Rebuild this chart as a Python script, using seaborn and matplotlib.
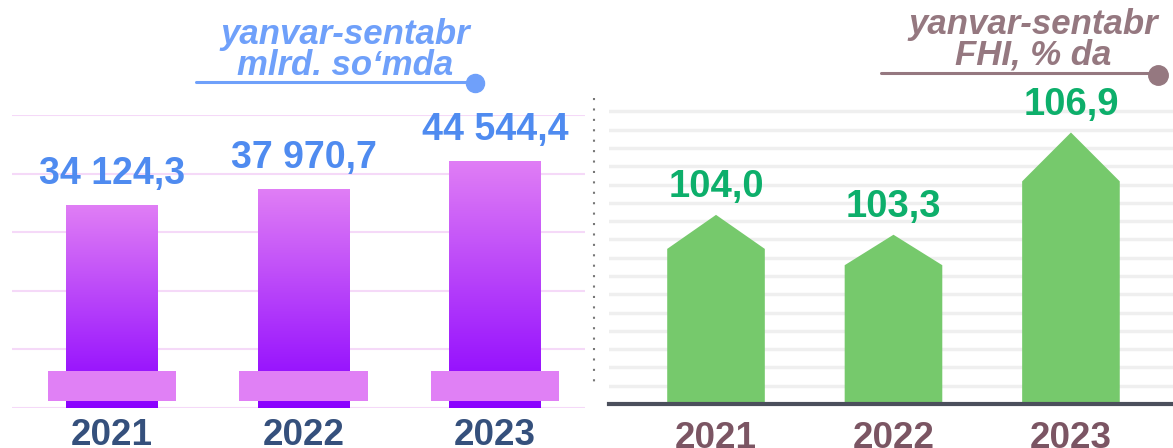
import numpy as np
import pandas as pd
import matplotlib
matplotlib.use("Agg")
import matplotlib.pyplot as plt
import seaborn as sns
from matplotlib.colors import LinearSegmentedColormap
from matplotlib.patches import Polygon, Rectangle
from matplotlib.lines import Line2D

# --- Dados ---
years = ["2021", "2022", "2023"]
volume = [34124.3, 37970.7, 44544.4]
volume_labels = ["34 124,3", "37 970,7", "44 544,4"]
growth = [104.0, 103.3, 106.9]
growth_labels = ["104,0", "103,3", "106,9"]

sns.set_theme(style="white")
plt.rcParams['font.family'] = ['Liberation Sans', 'DejaVu Sans']

W, H = 1173, 448
fig = plt.figure(figsize=(W / 100, H / 100), dpi=100)


def box(x0, y0, x1, y1):
    return [x0 / W, 1 - y1 / H, (x1 - x0) / W, (y1 - y0) / H]


# --- Painel esquerdo: volume ---
ax1 = fig.add_axes(box(12, 115, 585, 408))
df1 = pd.DataFrame({"year": years, "value": volume})
sns.barplot(data=df1, x="year", y="value", ax=ax1, width=0.48, color="#B040FA")

lo1, hi1 = -13500, 55500
cmap = LinearSegmentedColormap.from_list("violet", ["#8A00FF", "#E07EF5"])
grad = np.linspace(0, 1, 256).reshape(-1, 1)
for p, v, lab in zip(ax1.patches, volume, volume_labels):
    x, w = p.get_x(), p.get_width()
    p.set_visible(False)
    ax1.imshow(grad, extent=(x, x + w, lo1, v), origin="lower", cmap=cmap,
               aspect="auto", zorder=2)
    ax1.add_patch(Rectangle((x + w / 2 - 0.335, lo1 + 1650), 0.67, 7050,
                            color="#E080F5", zorder=3, lw=0))
    ax1.annotate(lab, (x + w / 2, v), xytext=(0, 10), textcoords="offset points",
                 ha="center", va="bottom", fontsize=27, fontweight="bold",
                 color="#4F8BF0")

ax1.set_xlim(-0.522, 2.47)
ax1.set_ylim(lo1, hi1)
ax1.set_yticks(np.linspace(lo1, hi1, 6))
ax1.yaxis.grid(True, color="#F5D9F8", lw=1.5)
ax1.set_axisbelow(True)
ax1.tick_params(axis="y", left=False, labelleft=False)
ax1.tick_params(axis="x", bottom=False, pad=1)
for t in ax1.get_xticklabels():
    t.set_fontsize(26.5)
    t.set_fontweight("bold")
    t.set_color("#35507C")
ax1.set_xlabel("")
ax1.set_ylabel("")
for s in ax1.spines.values():
    s.set_visible(False)

# --- Painel direito: FHI ---
ax2 = fig.add_axes(box(609, 96, 1173, 404))
df2 = pd.DataFrame({"year": years, "value": growth})
sns.barplot(data=df2, x="year", y="value", ax=ax2, width=0.55, color="#76C96C")

lo2 = 97.34
step = 0.644
hi2 = lo2 + (404 - 96) / 28.4
for p, v, lab in zip(ax2.patches, growth, growth_labels):
    x, w = p.get_x(), p.get_width()
    p.set_visible(False)
    h = v - lo2
    pts = [(x, lo2), (x, v - 0.18 * h), (x + w / 2, v), (x + w, v - 0.18 * h), (x + w, lo2)]
    ax2.add_patch(Polygon(pts, closed=True, color="#76C96C", lw=0, zorder=2))
    ax2.annotate(lab, (x + w / 2, v), xytext=(0, 7), textcoords="offset points",
                 ha="center", va="bottom", fontsize=27.5, fontweight="bold",
                 color="#0DAF6B")

ax2.set_xlim(-0.603, 2.575)
ax2.set_ylim(lo2, hi2)
ax2.set_yticks(lo2 + step * np.arange(1, 17))
ax2.yaxis.grid(True, color="#EFEFEF", lw=2.5)
ax2.set_axisbelow(True)
ax2.tick_params(axis="y", left=False, labelleft=False)
ax2.tick_params(axis="x", bottom=False, pad=6)
for t in ax2.get_xticklabels():
    t.set_fontsize(26.5)
    t.set_fontweight("bold")
    t.set_color("#7B5563")
ax2.set_xlabel("")
ax2.set_ylabel("")
for name, s in ax2.spines.items():
    s.set_visible(name == "bottom")
ax2.spines["bottom"].set_color("#4B4F5C")
ax2.spines["bottom"].set_linewidth(3)

# --- Títulos e decorações ---
fig.text(345 / W, 1 - 50 / H, "yanvar-sentabr\nmlrd. so‘mda", ha="center", va="center",
         fontsize=25, fontweight="bold", fontstyle="italic", color="#6FA0FA",
         linespacing=0.92)
fig.add_artist(Line2D([196 / W, 472 / W], [1 - 82 / H] * 2, color="#6FA0FA", lw=2.2))
fig.add_artist(Line2D([475 / W], [1 - 83 / H], marker="o", ms=13, color="#6FA0FA"))

fig.text(1033 / W, 1 - 40 / H, "yanvar-sentabr\nFHI, % da", ha="center", va="center",
         fontsize=25, fontweight="bold", fontstyle="italic", color="#957880",
         linespacing=0.92)
fig.add_artist(Line2D([881 / W, 1155 / W], [1 - 73 / H] * 2, color="#957880", lw=2.2))
fig.add_artist(Line2D([1158 / W], [1 - 75 / H], marker="o", ms=14, color="#957880"))

fig.add_artist(Line2D([594 / W] * 2, [1 - 98 / H, 1 - 388 / H], color="#777777",
                      lw=1.5, linestyle=(0, (1, 4))))

fig.savefig("out.png", dpi=100)
